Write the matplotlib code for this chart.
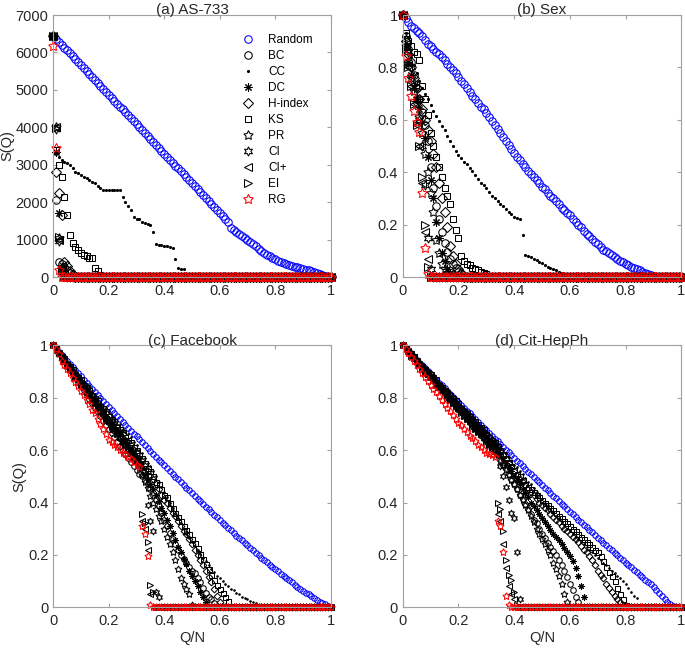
import numpy as np
import matplotlib
matplotlib.use('Agg')
import matplotlib.pyplot as plt

plt.rcParams['font.family'] = ['Liberation Sans', 'DejaVu Sans']

# Q/N grid, one point every 1% of the nodes removed
qn = np.round(np.arange(101) * 0.01, 2)


def full(vals):
    # after the last listed value the curve stays at 0
    return np.array(vals + [0] * (101 - len(vals)), dtype=float)


names = ['Random', 'BC', 'CC', 'DC', 'H-index', 'KS', 'PR', 'CI', 'CI+', 'EI', 'RG']

# ---- (a) AS-733
a_random = [6450, 6370, 6290, 6210, 6130, 6060, 5980, 5900, 5820, 5740,
            5660, 5580, 5500, 5420, 5340, 5270, 5190, 5110, 5030, 4950,
            4870, 4790, 4710, 4630, 4550, 4480, 4400, 4320, 4240, 4160,
            4080, 4000, 3920, 3840, 3760, 3690, 3610, 3530, 3450, 3370,
            3290, 3210, 3130, 3050, 2970, 2900, 2820, 2740, 2660, 2580,
            2500, 2420, 2340, 2260, 2180, 2110, 2030, 1950, 1870, 1790,
            1710, 1630, 1550, 1480, 1300, 1260, 1210, 1150, 1100, 1050,
            990, 940, 880, 820, 760, 700, 650, 600, 560, 510,
            470, 430, 400, 370, 340, 320, 300, 280, 260, 240,
            220, 200, 180, 160, 130, 110, 80, 50, 20]
a_bc = [6450, 2060, 400, 350, 280, 200, 100, 50, 20]
a_cc = [6450, 3300, 3200, 3130, 3080, 3040, 2990, 2900, 2810, 2770,
        2720, 2680, 2640, 2580, 2530, 2500, 2420, 2370, 2330, 2320,
        2320, 2320, 2320, 2320, 2320, 2150, 2010, 1900, 1790, 1600,
        1560, 1540, 1480, 1440, 1420, 1390, 1210, 880, 860, 850,
        840, 820, 800, 780, 470, 230, 220, 210]
a_dc = [6450, 3350, 1700, 230, 60, 20]
a_h = [6450, 2810, 2240, 1650, 400, 300, 150, 60]
a_ks = [6450, 3400, 3000, 2680, 2130, 1660, 1120, 920, 810, 720,
        630, 600, 560, 520, 500, 230, 150, 60]
a_pr = [6450, 4020, 1030, 250, 50]
a_ci = [6450, 3950, 950, 280, 60]
a_cip = [6450, 4000, 1000, 300, 80]
a_ei = [6450, 3980, 1060, 200, 40]
a_rg = [6170, 3450, 200]

# ---- (b) Sex
b_random = [1.00, 0.99, 0.975, 0.96, 0.95, 0.94, 0.93, 0.92, 0.905, 0.89,
            0.88, 0.87, 0.86, 0.85, 0.84, 0.83, 0.815, 0.80, 0.79, 0.78,
            0.765, 0.75, 0.735, 0.72, 0.705, 0.69, 0.68, 0.665, 0.65, 0.64,
            0.625, 0.61, 0.595, 0.58, 0.565, 0.55, 0.535, 0.52, 0.505, 0.49,
            0.475, 0.46, 0.445, 0.43, 0.42, 0.405, 0.395, 0.38, 0.37, 0.36,
            0.345, 0.335, 0.32, 0.31, 0.30, 0.29, 0.28, 0.265, 0.255, 0.245,
            0.235, 0.22, 0.21, 0.20, 0.19, 0.175, 0.165, 0.155, 0.145, 0.135,
            0.125, 0.115, 0.105, 0.10, 0.09, 0.083, 0.076, 0.07, 0.063, 0.057,
            0.05, 0.045, 0.04, 0.035, 0.03, 0.025, 0.02, 0.015, 0.01, 0.006]
b_bc = [1.0, 0.92, 0.87, 0.82, 0.77, 0.72, 0.68, 0.63, 0.58, 0.52,
        0.42, 0.34, 0.27, 0.22, 0.17, 0.13, 0.095, 0.07, 0.05, 0.035, 0.02, 0.01]
b_cc = [1.0, 0.93, 0.88, 0.84, 0.81, 0.78, 0.75, 0.72, 0.70, 0.68,
        0.655, 0.635, 0.615, 0.595, 0.575, 0.56, 0.54, 0.52, 0.50, 0.48,
        0.465, 0.455, 0.44, 0.43, 0.415, 0.405, 0.39, 0.375, 0.36, 0.35,
        0.34, 0.325, 0.31, 0.30, 0.29, 0.28, 0.27, 0.26, 0.25, 0.24,
        0.23, 0.225, 0.22, 0.16, 0.085, 0.08, 0.075, 0.07, 0.065, 0.058,
        0.052, 0.046, 0.04, 0.035, 0.03, 0.025, 0.02, 0.015, 0.012, 0.008, 0.005]
b_dc = [1.0, 0.88, 0.82, 0.77, 0.72, 0.68, 0.64, 0.59, 0.53, 0.46,
        0.37, 0.30, 0.21, 0.15, 0.09, 0.06, 0.03, 0.015]
b_h = [1.0, 0.9, 0.85, 0.8, 0.76, 0.72, 0.68, 0.64, 0.60, 0.56,
       0.52, 0.47, 0.42, 0.36, 0.30, 0.25, 0.19, 0.12, 0.08, 0.05, 0.03, 0.015]
b_ks = [1.0, 0.93, 0.9, 0.88, 0.86, 0.85, 0.83, 0.73, 0.68, 0.62,
        0.55, 0.5, 0.46, 0.42, 0.38, 0.34, 0.31, 0.28, 0.22, 0.18,
        0.15, 0.08, 0.06, 0.05, 0.045, 0.035, 0.03, 0.025, 0.02, 0.015, 0.01]
b_pr = [1.0, 0.88, 0.82, 0.76, 0.71, 0.66, 0.61, 0.55, 0.47, 0.40,
        0.32, 0.25, 0.14, 0.09, 0.05, 0.03, 0.015]
b_ci = [1.0, 0.91, 0.86, 0.80, 0.74, 0.68, 0.60, 0.50, 0.35, 0.15, 0.03]
b_cip = [1.0, 0.87, 0.8, 0.73, 0.66, 0.58, 0.5, 0.36, 0.17, 0.07]
b_ei = [1.0, 0.87, 0.80, 0.73, 0.66, 0.58, 0.5, 0.38, 0.2, 0.04]
b_rg = [1.0, 0.845, 0.76, 0.69, 0.635, 0.59, 0.555, 0.32, 0.11, 0.01]

# ---- (c) Facebook
c_random = [1.000, .988, .976, .964, .952, .940, .928, .917, .905, .893,
            .881, .869, .858, .846, .835, .823, .811, .800, .788, .777,
            .765, .754, .742, .731, .720, .708, .697, .686, .674, .663,
            .652, .641, .630, .618, .607, .596, .585, .574, .564, .553,
            .542, .531, .520, .510, .499, .488, .477, .467, .456, .446,
            .435, .425, .415, .404, .394, .384, .374, .364, .353, .343,
            .333, .323, .314, .304, .294, .284, .274, .265, .255, .246,
            .236, .227, .217, .208, .198, .189, .180, .172, .163, .154,
            .145, .137, .128, .120, .111, .103, .095, .087, .079, .071,
            .063, .056, .049, .042, .035, .028, .022, .017, .011, .006]
c_bc = [1.00, .985, .97, .955, .94, .92, .905, .89, .875, .86,
        .845, .83, .81, .795, .78, .76, .745, .73, .71, .695,
        .68, .665, .65, .63, .615, .60, .585, .57, .555, .54,
        .525, .51, .50, .485, .47, .45, .43, .41, .385, .36,
        .335, .31, .285, .26, .24, .22, .20, .185, .17, .155,
        .14, .13, .11, .095, .075, .055, .04, .03, .015]
c_cc = [1.00, .99, .97, .96, .95, .94, .92, .91, .90, .89,
        .87, .86, .85, .84, .82, .81, .80, .78, .77, .76,
        .75, .73, .72, .71, .70, .68, .67, .66, .65, .63,
        .62, .60, .59, .57, .55, .54, .52, .50, .48, .46,
        .44, .42, .40, .38, .36, .34, .32, .30, .28, .265,
        .25, .235, .22, .205, .19, .175, .16, .145, .135, .12,
        .11, .10, .09, .08, .07, .065, .055, .05, .04, .035,
        .03, .025, .02, .015]
c_dc = [1.00, .99, .97, .96, .94, .93, .91, .90, .89, .87,
        .86, .84, .83, .81, .80, .79, .77, .76, .74, .73,
        .71, .70, .69, .67, .66, .64, .63, .61, .60, .59,
        .57, .55, .53, .51, .49, .47, .45, .43, .405, .38,
        .36, .335, .31, .285, .255, .23, .21, .185, .165, .14,
        .12, .10, .08, .06, .04, .02]
c_h = [1.00, .99, .97, .96, .95, .93, .92, .90, .89, .88,
       .86, .85, .84, .82, .81, .79, .78, .77, .75, .74,
       .73, .71, .70, .69, .67, .66, .64, .63, .62, .60,
       .59, .57, .56, .54, .52, .50, .49, .47, .45, .43,
       .41, .40, .38, .36, .35, .33, .31, .29, .28, .26,
       .24, .22, .20, .18, .16, .14, .115, .095, .07, .045, .02]
c_ks = [1.00, .99, .97, .96, .95, .93, .92, .91, .89, .88,
        .87, .85, .84, .83, .81, .80, .79, .77, .76, .75,
        .73, .72, .71, .69, .68, .67, .65, .64, .63, .61,
        .60, .58, .57, .55, .53, .52, .50, .48, .47, .45,
        .43, .42, .40, .38, .36, .345, .33, .31, .295, .28,
        .26, .245, .225, .205, .185, .165, .145, .125, .105, .085,
        .07, .055, .04, .025]
c_pr = [1.00, .99, .97, .96, .94, .93, .91, .90, .88, .87,
        .85, .84, .82, .81, .79, .78, .77, .75, .74, .72,
        .71, .69, .68, .66, .65, .63, .62, .60, .59, .57,
        .56, .53, .505, .48, .455, .425, .40, .375, .35, .33,
        .30, .27, .24, .21, .18, .145, .11, .09, .07, .05, .01]
c_ci = [1.00, .98, .97, .95, .94, .92, .91, .90, .88, .87,
        .85, .84, .82, .81, .80, .78, .77, .75, .74, .72,
        .71, .70, .68, .67, .65, .64, .62, .61, .60, .58,
        .57, .55, .53, .50, .39, .33, .29, .06, .04]
c_cip = [1.00, .98, .97, .95, .94, .92, .91, .89, .88, .87,
         .85, .84, .82, .81, .79, .78, .76, .75, .73, .72,
         .70, .69, .67, .66, .64, .63, .62, .60, .59, .57,
         .555, .545, .33, .30, .22, .05]
c_ei = [1.00, .99, .97, .96, .94, .93, .91, .90, .88, .87,
        .85, .84, .82, .81, .80, .78, .77, .75, .74, .72,
        .71, .69, .68, .66, .65, .63, .62, .60, .59, .57,
        .56, .55, .355, .32, .25, .085, .06]
c_rg = [1.00, .985, .965, .94, .925, .91, .895, .875, .86, .845,
        .825, .81, .79, .775, .755, .74, .72, .70, .68, .66,
        .64, .63, .62, .61, .60, .59, .585, .575, .565, .555,
        .545, .535, .31, .28, .195, .01]

# ---- (d) Cit-HepPh
d_random = [1.000, .989, .978, .967, .956, .945, .934, .923, .912, .902,
            .891, .880, .869, .858, .847, .836, .825, .815, .804, .793,
            .782, .771, .761, .750, .740, .729, .718, .707, .697, .686,
            .675, .665, .654, .644, .633, .623, .612, .602, .591, .581,
            .570, .560, .549, .539, .528, .518, .508, .498, .487, .477,
            .467, .457, .447, .436, .426, .416, .406, .396, .385, .375,
            .365, .355, .345, .335, .325, .315, .305, .295, .286, .276,
            .266, .256, .247, .237, .228, .218, .208, .199, .189, .180,
            .170, .161, .152, .142, .133, .124, .115, .106, .097, .088,
            .077, .067, .056, .045, .033, .022, .012, .005]
d_bc = [1.00, .99, .98, .96, .95, .94, .93, .92, .90, .89,
        .88, .87, .86, .84, .83, .82, .81, .80, .78, .77,
        .76, .75, .74, .72, .71, .70, .69, .68, .66, .65,
        .64, .63, .62, .605, .585, .565, .545, .53, .51, .49,
        .47, .45, .43, .415, .395, .375, .355, .335, .32, .30,
        .28, .265, .245, .23, .215, .20, .18, .16, .14, .115,
        .09, .065, .04, .02]
d_cc = [1.00, .99, .98, .97, .96, .94, .93, .92, .91, .90,
        .89, .88, .87, .86, .85, .83, .82, .81, .80, .79,
        .78, .77, .76, .75, .73, .72, .71, .70, .69, .68,
        .67, .66, .65, .635, .625, .61, .60, .59, .575, .56,
        .545, .535, .52, .51, .495, .48, .47, .455, .44, .43,
        .415, .40, .39, .375, .365, .35, .34, .325, .315, .30,
        .29, .28, .27, .26, .25, .24, .23, .22, .21, .20,
        .19, .18, .17, .16, .15, .14, .13, .12, .11, .10,
        .09, .075, .06, .045, .035]
d_dc = [1.00, .99, .98, .97, .95, .94, .93, .92, .91, .90,
        .88, .87, .86, .85, .84, .83, .82, .80, .79, .78,
        .77, .76, .75, .74, .72, .71, .70, .69, .68, .67,
        .65, .64, .63, .62, .60, .585, .57, .55, .535, .52,
        .50, .485, .47, .45, .435, .42, .40, .385, .37, .355,
        .34, .325, .31, .295, .28, .27, .255, .24, .225, .21,
        .195, .175, .15, .12, .08, .04]
d_h = [1.00, .99, .98, .97, .95, .94, .93, .92, .91, .90,
       .89, .88, .86, .85, .84, .83, .82, .81, .80, .78,
       .77, .76, .75, .74, .73, .72, .70, .69, .68, .67,
       .66, .65, .64, .625, .61, .595, .58, .565, .55, .535,
       .52, .505, .49, .48, .465, .45, .44, .43, .415, .40,
       .39, .38, .37, .355, .345, .335, .325, .31, .30, .29,
       .28, .27, .26, .25, .235, .22, .21, .195, .18, .16,
       .14, .125, .11, .09, .075, .06, .045, .03, .02]
d_ks = [1.00, .99, .98, .97, .96, .94, .93, .92, .91, .90,
        .89, .88, .87, .85, .84, .83, .82, .81, .80, .79,
        .78, .76, .75, .74, .73, .72, .71, .70, .69, .68,
        .66, .65, .64, .63, .615, .60, .585, .57, .555, .54,
        .525, .51, .50, .485, .47, .46, .45, .44, .43, .42,
        .41, .40, .39, .38, .37, .36, .35, .34, .33, .32,
        .31, .30, .29, .28, .27, .26, .25, .24, .23, .22,
        .21, .195, .175, .155, .135, .12, .10, .075, .05, .03, .01]
d_pr = [1.00, .99, .98, .96, .95, .94, .93, .92, .90, .89,
        .88, .87, .85, .84, .83, .82, .81, .79, .78, .77,
        .76, .75, .73, .72, .71, .70, .68, .67, .66, .65,
        .64, .62, .61, .60, .58, .56, .545, .525, .505, .485,
        .47, .45, .43, .41, .39, .37, .35, .325, .30, .28,
        .26, .24, .22, .20, .17, .145, .12, .09, .05, .02]
d_ci = [1.00, .99, .98, .96, .95, .94, .93, .92, .91, .89,
        .88, .87, .86, .85, .83, .82, .81, .80, .79, .78,
        .76, .75, .74, .73, .72, .71, .69, .68, .67, .66,
        .65, .63, .62, .61, .58, .54, .50, .46, .41, .36,
        .34, .21, .03]
d_cip = [1.00, .99, .98, .96, .95, .94, .93, .91, .90, .89,
         .88, .86, .85, .84, .83, .81, .80, .79, .78, .76,
         .75, .74, .73, .72, .70, .69, .68, .67, .65, .64,
         .63, .62, .60, .59, .355, .33, .24, .15, .08, .05, .03]
d_ei = [1.00, .99, .98, .96, .95, .94, .93, .91, .90, .89,
        .88, .87, .85, .84, .83, .82, .80, .79, .78, .77,
        .76, .74, .73, .72, .71, .69, .68, .67, .66, .65,
        .63, .62, .61, .595, .40, .375, .29, .18, .125, .105, .06, .01]
d_rg = [1.00, .985, .97, .955, .94, .925, .91, .895, .88, .865,
        .85, .835, .82, .805, .79, .775, .76, .75, .735, .72,
        .705, .695, .68, .67, .655, .645, .635, .62, .61, .60,
        .59, .585, .58, .575, .33, .31, .21, .045, .01]

panels = [
    ('(a) AS-733', [a_random, a_bc, a_cc, a_dc, a_h, a_ks, a_pr, a_ci, a_cip, a_ei, a_rg]),
    ('(b) Sex', [b_random, b_bc, b_cc, b_dc, b_h, b_ks, b_pr, b_ci, b_cip, b_ei, b_rg]),
    ('(c) Facebook', [c_random, c_bc, c_cc, c_dc, c_h, c_ks, c_pr, c_ci, c_cip, c_ei, c_rg]),
    ('(d) Cit-HepPh', [d_random, d_bc, d_cc, d_dc, d_h, d_ks, d_pr, d_ci, d_cip, d_ei, d_rg]),
]

markers = ['o', 'o', '.', (8, 2, 0), 'D', 's', (5, 1, 0), (6, 1, 0), '<', '>', (5, 1, 0)]
colors = ['blue'] + ['black'] * 9 + ['red']
# marker size factor per marker (relative to the circle)
mscale = [1.0, 1.0, 0.55, 1.1, 0.85, 0.9, 1.3, 1.25, 0.95, 0.95, 1.35]

positions = [[0.0778, 0.5725, 0.405, 0.4043], [0.588, 0.5725, 0.4067, 0.4043],
             [0.0778, 0.0628, 0.405, 0.4043], [0.588, 0.0628, 0.4067, 0.4043]]
base_ms = [5.4, 5.4, 4.0, 4.0]

gray = '#a0a0a0'
txt = '#262626'

fig = plt.figure(figsize=(6.85, 6.48), dpi=100)
axes = []
for i, (title, series) in enumerate(panels):
    ax = fig.add_axes(positions[i])
    axes.append(ax)
    for j, vals in enumerate(series):
        y = full(vals)
        m = markers[j]
        ax.plot(qn, y, linestyle='none', marker=m,
                mfc=colors[j] if m == '.' else 'none', mec=colors[j],
                ms=base_ms[i] * mscale[j], mew=0.75, clip_on=False,
                label=names[j])
    ax.set_xlim(0, 1)
    ax.set_xticks([0, 0.2, 0.4, 0.6, 0.8, 1])
    ax.set_xticklabels(['0', '0.2', '0.4', '0.6', '0.8', '1'])
    if i == 0:
        ax.set_ylim(0, 7000)
        ax.set_yticks(range(0, 7001, 1000))
    else:
        ax.set_ylim(0, 1)
        ax.set_yticks([0, 0.2, 0.4, 0.6, 0.8, 1])
        ax.set_yticklabels(['0', '0.2', '0.4', '0.6', '0.8', '1'])
    ax.tick_params(direction='in', top=True, right=True, length=3, width=0.8,
                   color=gray, labelcolor=txt, labelsize=10.5)
    ax.tick_params(axis='x', pad=5)
    ax.tick_params(axis='y', pad=3.5)
    for s in ax.spines.values():
        s.set_color(gray)
        s.set_linewidth(0.8)
    ax.set_title(title, fontsize=11, pad=0.5, color=txt)
    if i in (0, 2):
        ax.set_ylabel('S(Q)', fontsize=10.5, color=txt, labelpad=1)
    if i in (2, 3):
        ax.set_xlabel('Q/N', fontsize=10.5, color=txt, labelpad=2)

axes[0].legend(loc='upper left', bbox_to_anchor=(0.665, 0.945), frameon=False,
               fontsize=8.5, handlelength=1.0, handletextpad=1.2,
               labelspacing=0.34, borderaxespad=0)

fig.savefig('out.png', dpi=100)
